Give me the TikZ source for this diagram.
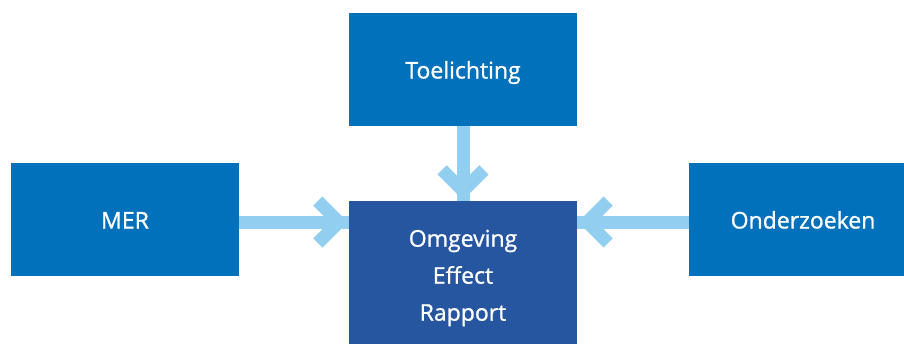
\documentclass[tikz,border=0pt]{standalone}
\usepackage{fontspec}
\setmainfont{Open Sans}
\newfontfamily\boxfont{Open Sans}[FakeBold=1]
\usetikzlibrary{calc}
\definecolor{midblue}{HTML}{0071BA}
\definecolor{darkblue}{HTML}{2656A0}
\definecolor{lightblue}{HTML}{92CEF0}
\tikzset{
  box/.style={fill=midblue, text=white, minimum width=228pt, minimum height=113pt,
    inner sep=0pt, font=\boxfont\fontsize{23}{37}\selectfont, align=center},
  oneline/.style={text height=19pt, text depth=0pt},
  shaft/.style={draw=lightblue, line width=13pt},
  chev/.pic={\draw[lightblue, line width=13pt, line join=miter] (-21,21) -- (0,0) -- (-21,-21);}
}
\begin{document}
\begin{tikzpicture}[x=1pt,y=-1pt]
\useasboundingbox (0,0) rectangle (904,343);
\clip (0,0) rectangle (904,343);
\node[box, oneline] (T) at (463,69) {Toelichting};
\node[box, oneline] (MER) at (125,219) {MER};
\node[box, oneline] (OND) at (803,219) {Onderzoeken};
\node[box, fill=darkblue, minimum height=154pt] (OER) at (463,278) {Omgeving\\Effect\\Rapport};
\coordinate (ml) at ($(MER.east)+(0,3)$);
\coordinate (mr) at ($(OND.west)+(0,3)$);
\draw[shaft] (ml) -- (ml -| OER.west);
\pic at ($(ml -| OER.west)+(-10,0)$) {chev};
\draw[shaft] (mr) -- (mr -| OER.east);
\pic[rotate=180] at ($(mr -| OER.east)+(10,0)$) {chev};
\draw[shaft] (T.south) -- (T.south |- OER.north);
\pic[rotate=-90] at ($(T.south |- OER.north)+(0,-10)$) {chev};
\end{tikzpicture}
\end{document}
